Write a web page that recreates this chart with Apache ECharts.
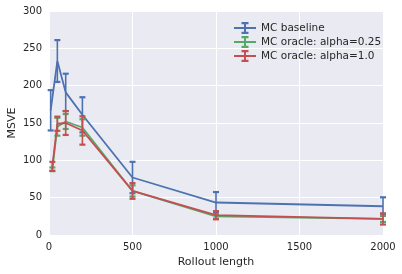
<!DOCTYPE html>
<html><head><meta charset="utf-8">
<script src="https://cdn.jsdelivr.net/npm/echarts@6/dist/echarts.min.js"></script>
<style>html,body{margin:0;padding:0;background:#fff}#c{width:402px;height:274px}</style>
</head><body><div id="c"></div>
<script>
const xTicks = [0, 500, 1000, 1500, 2000];
const yTicks = [0, 50, 100, 150, 200, 250, 300];
const seriesNames = ['MC baseline', 'MC oracle: alpha=0.25', 'MC oracle: alpha=1.0'];
const xBaseline = [10, 50, 100, 200, 500, 1000, 2000];
const baselineMean = [167, 233, 191, 161, 77, 43.5, 38.5];
const baselineErr = [27, 28, 25, 23.5, 21, 14, 12];
const xOracle = [20, 50, 100, 200, 500, 1000, 2000];
const oracle025Mean = [88, 145, 152, 144, 59, 25, 21.5];
const oracle025Err = [2.5, 12, 10, 11, 7.5, 3, 4];
const oracle1Mean = [92, 149, 150, 140, 59, 26.5, 21.5];
const oracle1Err = [6, 9.5, 16, 19, 10.5, 5.5, 7.5];
const colors = ['#4C72B0', '#55A868', '#C44E52'];

const groups = [
  {x: xBaseline, m: baselineMean, e: baselineErr},
  {x: xOracle, m: oracle025Mean, e: oracle025Err},
  {x: xOracle, m: oracle1Mean, e: oracle1Err}
];

const icon = 'path://M0,5L22,5L22,7L0,7Z M10,1L12,1L12,11L10,11Z M7.5,0L14.5,0L14.5,2.2L7.5,2.2Z M7.5,9.8L14.5,9.8L14.5,12L7.5,12Z';

const series = [];
groups.forEach((g, i) => {
  series.push({
    name: seriesNames[i], type: 'line', z: 2 + i * 2,
    data: g.x.map((x, k) => [x, g.m[k]]),
    showSymbol: false, symbol: 'none',
    lineStyle: {color: colors[i], width: 1.8},
    itemStyle: {color: colors[i]},
    animation: false
  });
  series.push({
    name: seriesNames[i], type: 'custom', z: 3 + i * 2,
    data: g.x.map((x, k) => [x, g.m[k] - g.e[k], g.m[k] + g.e[k]]),
    encode: {x: 0, y: [1, 2]},
    animation: false,
    renderItem: function (params, api) {
      const lo = api.coord([api.value(0), api.value(1)]);
      const hi = api.coord([api.value(0), api.value(2)]);
      const hw = 3;
      const st = {stroke: colors[i], fill: null};
      return {type: 'group', children: [
        {type: 'line', shape: {x1: lo[0], y1: lo[1], x2: hi[0], y2: hi[1]}, style: Object.assign({lineWidth: 1.6}, st)},
        {type: 'line', shape: {x1: lo[0] - hw, y1: lo[1], x2: lo[0] + hw, y2: lo[1]}, style: Object.assign({lineWidth: 2.2}, st)},
        {type: 'line', shape: {x1: hi[0] - hw, y1: hi[1], x2: hi[0] + hw, y2: hi[1]}, style: Object.assign({lineWidth: 2.2}, st)}
      ]};
    }
  });
});

const chart = echarts.init(document.getElementById('c'), null, {renderer: 'canvas'});
chart.setOption({
  animation: false,
  textStyle: {fontFamily: 'DejaVu Sans'},
  grid: {left: 49, right: 19, top: 11, bottom: 39, show: true, backgroundColor: '#EAEAF2', borderWidth: 0,
         containLabel: false, outerBoundsMode: 'none'},
  legend: {
    data: seriesNames.map((n, i) => ({name: n, icon: icon, itemStyle: {color: colors[i]}})),
    orient: 'vertical', left: 229, top: 17, itemWidth: 22, itemHeight: 12, itemGap: 2,
    textStyle: {color: '#262626', fontSize: 10.5, fontFamily: 'DejaVu Sans'},
    selectedMode: false
  },
  xAxis: {
    type: 'value', min: xTicks[0], max: xTicks[xTicks.length - 1], interval: 500,
    name: 'Rollout length', nameLocation: 'middle', nameGap: 22, nameMoveOverlap: false,
    nameTextStyle: {color: '#262626', fontSize: 11},
    axisLine: {show: false}, axisTick: {show: false},
    axisLabel: {color: '#262626', fontSize: 10, margin: 7, formatter: v => String(v)},
    splitLine: {show: true, lineStyle: {color: '#ffffff', width: 1}}
  },
  yAxis: {
    type: 'value', min: yTicks[0], max: yTicks[yTicks.length - 1], interval: 50,
    name: 'MSVE', nameLocation: 'middle', nameGap: 37, nameMoveOverlap: false,
    nameTextStyle: {color: '#262626', fontSize: 11, verticalAlign: 'middle'},
    axisLine: {show: false}, axisTick: {show: false},
    axisLabel: {color: '#262626', fontSize: 10, margin: 7, formatter: v => String(v)},
    splitLine: {show: true, lineStyle: {color: '#ffffff', width: 1}}
  },
  series: series
});
</script></body></html>
